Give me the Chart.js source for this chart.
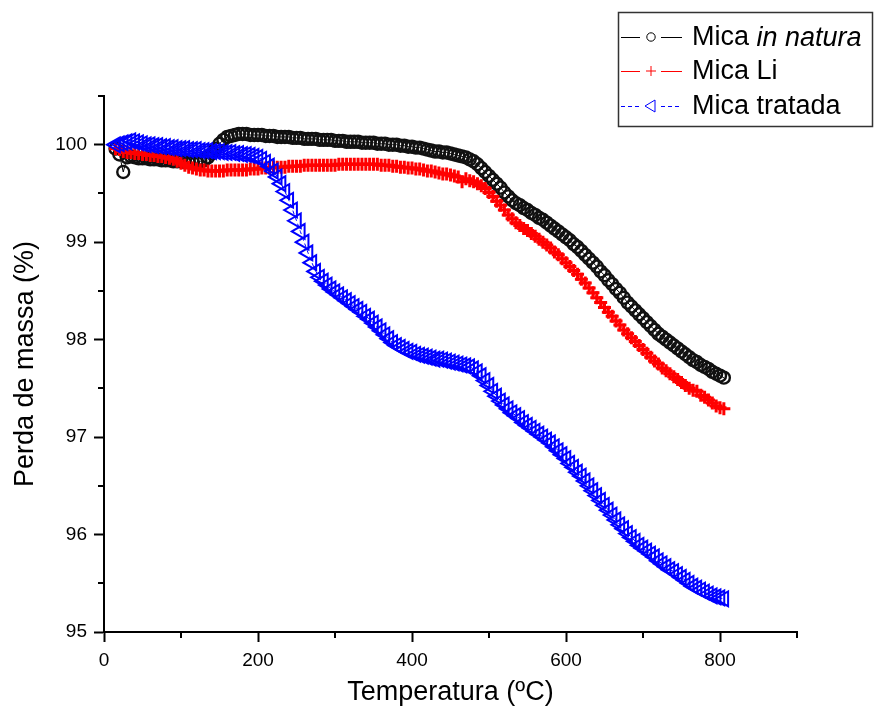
<!DOCTYPE html>
<html>
<head>
<meta charset="utf-8">
<script src="https://cdn.jsdelivr.net/npm/chart.js@4.4.1/dist/chart.umd.min.js"></script>
<style>
  html, body { margin: 0; padding: 0; background: #fff; }
  #c { display: block; }
</style>
</head>
<body>
<canvas id="c" width="874" height="715"></canvas>
<script>
// ---- Data ----
const TEMPERATURES = [
  15,20,25,30,35,40,45,50,55,60,
  65,70,75,80,85,90,95,100,105,110,
  115,120,125,130,135,140,145,150,155,160,
  165,170,175,180,185,190,195,200,205,210,
  215,220,225,230,235,240,245,250,255,260,
  265,270,275,280,285,290,295,300,305,310,
  315,320,325,330,335,340,345,350,355,360,
  365,370,375,380,385,390,395,400,405,410,
  415,420,425,430,435,440,445,450,455,460,
  465,470,475,480,485,490,495,500,505,510,
  515,520,525,530,535,540,545,550,555,560,
  565,570,575,580,585,590,595,600,605,610,
  615,620,625,630,635,640,645,650,655,660,
  665,670,675,680,685,690,695,700,705,710,
  715,720,725,730,735,740,745,750,755,760,
  765,770,775,780,785,790,795,800,805
];

const MICA_IN_NATURA = [
  99.96,99.90,99.72,99.87,99.88,99.87,99.86,99.86,99.86,99.85,
  99.85,99.85,99.84,99.84,99.84,99.83,99.83,99.83,99.82,99.82,
  99.82,99.82,99.83,99.84,99.87,99.91,99.96,100.01,100.05,100.08,
  100.09,100.10,100.11,100.11,100.11,100.10,100.10,100.10,100.10,100.09,
  100.09,100.09,100.08,100.08,100.08,100.08,100.07,100.07,100.07,100.06,
  100.06,100.06,100.06,100.05,100.05,100.05,100.05,100.04,100.04,100.04,
  100.03,100.03,100.03,100.03,100.02,100.02,100.02,100.02,100.01,100.01,
  100.01,100.00,100.00,100.00,99.99,99.99,99.98,99.98,99.97,99.97,
  99.96,99.95,99.94,99.93,99.93,99.92,99.92,99.91,99.90,99.89,
  99.88,99.87,99.85,99.83,99.80,99.76,99.72,99.68,99.64,99.60,
  99.56,99.51,99.47,99.43,99.40,99.38,99.35,99.33,99.30,99.28,
  99.25,99.23,99.20,99.17,99.14,99.11,99.08,99.05,99.02,98.98,
  98.95,98.91,98.87,98.83,98.79,98.75,98.70,98.66,98.61,98.57,
  98.52,98.48,98.43,98.38,98.34,98.30,98.26,98.22,98.18,98.14,
  98.10,98.06,98.03,98.00,97.97,97.94,97.91,97.88,97.85,97.82,
  97.79,97.77,97.74,97.72,97.70,97.67,97.65,97.63,97.61
];

const MICA_LI = [
  99.96,99.95,99.93,99.92,99.92,99.91,99.91,99.90,99.90,99.89,
  99.89,99.88,99.88,99.87,99.86,99.85,99.83,99.81,99.79,99.77,
  99.76,99.75,99.74,99.74,99.73,99.73,99.73,99.73,99.73,99.74,
  99.74,99.74,99.74,99.74,99.74,99.75,99.75,99.75,99.76,99.76,
  99.76,99.77,99.77,99.77,99.77,99.78,99.78,99.78,99.78,99.79,
  99.79,99.79,99.79,99.79,99.79,99.79,99.79,99.79,99.80,99.80,
  99.80,99.80,99.80,99.80,99.80,99.80,99.80,99.80,99.80,99.79,
  99.79,99.79,99.78,99.78,99.77,99.77,99.76,99.76,99.75,99.75,
  99.74,99.73,99.73,99.72,99.71,99.70,99.70,99.69,99.68,99.67,
  99.62,99.65,99.63,99.62,99.60,99.58,99.55,99.51,99.47,99.42,
  99.38,99.33,99.28,99.24,99.20,99.17,99.14,99.12,99.09,99.06,
  99.03,99.00,98.97,98.94,98.90,98.87,98.83,98.79,98.75,98.71,
  98.67,98.62,98.58,98.53,98.48,98.43,98.38,98.33,98.28,98.24,
  98.19,98.15,98.10,98.06,98.02,97.98,97.94,97.90,97.86,97.82,
  97.78,97.75,97.71,97.68,97.65,97.62,97.59,97.56,97.53,97.50,
  97.48,97.47,97.43,97.41,97.38,97.35,97.32,97.30,97.29
];

const MICA_TRATADA = [
  100.00,100.01,100.02,100.03,100.04,100.03,100.02,100.01,100.00,100.00,
  99.99,99.99,99.98,99.98,99.97,99.97,99.96,99.96,99.96,99.95,
  99.95,99.95,99.94,99.94,99.94,99.93,99.93,99.93,99.92,99.92,
  99.92,99.91,99.91,99.90,99.90,99.89,99.88,99.87,99.85,99.82,
  99.78,99.73,99.67,99.60,99.52,99.43,99.33,99.22,99.11,99.00,
  98.89,98.79,98.70,98.64,98.60,98.56,98.52,98.49,98.46,98.43,
  98.40,98.37,98.34,98.31,98.28,98.24,98.21,98.17,98.13,98.09,
  98.05,98.01,97.97,97.94,97.92,97.90,97.88,97.87,97.85,97.84,
  97.83,97.82,97.81,97.80,97.80,97.79,97.78,97.77,97.76,97.75,
  97.74,97.73,97.72,97.70,97.67,97.63,97.58,97.53,97.47,97.42,
  97.37,97.33,97.29,97.25,97.22,97.19,97.15,97.12,97.09,97.06,
  97.03,97.00,96.97,96.94,96.90,96.86,96.82,96.78,96.73,96.69,
  96.64,96.60,96.55,96.50,96.45,96.40,96.35,96.30,96.25,96.20,
  96.15,96.10,96.06,96.01,95.97,95.93,95.89,95.86,95.83,95.80,
  95.77,95.73,95.70,95.67,95.64,95.62,95.59,95.56,95.53,95.50,
  95.47,95.45,95.43,95.41,95.39,95.37,95.36,95.35,95.34
];

const X_TICK_LABELS = [0, 200, 400, 600, 800];
const Y_TICK_LABELS = [95, 96, 97, 98, 99, 100];
const X_MINOR_TICKS = [100, 300, 500, 700, 900];
const Y_MINOR_TICKS = [95.5, 96.5, 97.5, 98.5, 99.5, 100.5];

const SERIES_NAMES = ['Mica in natura', 'Mica Li', 'Mica tratada'];

// ---- Build ----
function pts(vals) { return TEMPERATURES.map((t, i) => ({ x: t, y: vals[i] })); }

const FONT = '"Liberation Sans", Arial, Helvetica, sans-serif';

const isLabel = (arr, v) => arr.some(a => Math.abs(a - v) < 1e-6);

const minorTicks = {
  id: 'minorTicks',
  afterDraw(chart) {
    const ctx = chart.ctx, xs = chart.scales.x, ys = chart.scales.y;
    const a = chart.chartArea;
    ctx.save();
    ctx.strokeStyle = '#000';
    ctx.lineWidth = 2;
    ctx.beginPath();
    X_MINOR_TICKS.forEach(v => {
      const px = Math.round(xs.getPixelForValue(v));
      ctx.moveTo(px, a.bottom); ctx.lineTo(px, a.bottom + 6);
    });
    Y_MINOR_TICKS.forEach(v => {
      const py = Math.round(ys.getPixelForValue(v));
      ctx.moveTo(a.left, py); ctx.lineTo(a.left - 6, py);
    });
    ctx.stroke();
    ctx.restore();
  }
};

const customLegend = {
  id: 'customLegend',
  afterDraw(chart) {
    const ctx = chart.ctx;
    ctx.save();
    ctx.strokeStyle = '#333';
    ctx.lineWidth = 1.5;
    ctx.strokeRect(618.5, 12.5, 254, 114);
    const rows = [
      { y: 37, color: '#000', dash: [], marker: 'circle' },
      { y: 71, color: '#ff0000', dash: [], marker: 'cross' },
      { y: 106, color: '#0000ff', dash: [4, 3], marker: 'tri' }
    ];
    rows.forEach((r, i) => {
      ctx.strokeStyle = r.color;
      ctx.lineWidth = 1;
      ctx.setLineDash(r.dash);
      ctx.beginPath();
      ctx.moveTo(621, r.y + 0.5); ctx.lineTo(640, r.y + 0.5);
      ctx.moveTo(661, r.y + 0.5); ctx.lineTo(682, r.y + 0.5);
      ctx.stroke();
      ctx.setLineDash([]);
      ctx.beginPath();
      if (r.marker === 'circle') {
        ctx.arc(651, r.y, 4.2, 0, Math.PI * 2);
      } else if (r.marker === 'cross') {
        ctx.moveTo(646, r.y); ctx.lineTo(656, r.y);
        ctx.moveTo(651, r.y - 5); ctx.lineTo(651, r.y + 5);
      } else {
        ctx.moveTo(645, r.y); ctx.lineTo(655, r.y - 6); ctx.lineTo(655, r.y + 6); ctx.closePath();
      }
      ctx.stroke();
      ctx.fillStyle = '#000';
      ctx.textBaseline = 'middle';
      ctx.textAlign = 'left';
      if (i === 0) {
        ctx.font = '27px ' + FONT;
        const base = 'Mica ';
        ctx.fillText(base, 692, r.y + 1);
        const w = ctx.measureText(base).width;
        ctx.font = 'italic 27px ' + FONT;
        ctx.fillText('in natura', 692 + w, r.y + 1);
      } else {
        ctx.font = '27px ' + FONT;
        ctx.fillText(SERIES_NAMES[i], 692, r.y + 1);
      }
    });
    ctx.restore();
  }
};

new Chart(document.getElementById('c'), {
  type: 'line',
  data: {
    datasets: [
      {
        label: SERIES_NAMES[2],
        data: pts(MICA_TRATADA),
        borderColor: '#0000ff',
        borderWidth: 1,
        borderDash: [4, 3],
        pointStyle: 'triangle',
        pointRotation: -90,
        pointRadius: 8.5,
        pointBorderWidth: 2,
        pointBorderColor: '#0000ff',
        pointBackgroundColor: 'rgba(255,255,255,0)',
        order: 0
      },
      {
        label: SERIES_NAMES[1],
        data: pts(MICA_LI),
        borderColor: '#ff0000',
        borderWidth: 1,
        pointStyle: 'cross',
        pointRadius: 6.5,
        pointBorderWidth: 3,
        pointBorderColor: '#ff0000',
        order: 1
      },
      {
        label: SERIES_NAMES[0],
        data: pts(MICA_IN_NATURA),
        borderColor: '#000',
        borderWidth: 1,
        pointStyle: 'circle',
        pointRadius: 6,
        pointBorderWidth: 2.4,
        pointBorderColor: '#111',
        pointBackgroundColor: 'rgba(255,255,255,0)',
        order: 2
      }
    ]
  },
  options: {
    responsive: false,
    animation: false,
    devicePixelRatio: 1,
    layout: { padding: { left: 0, top: 96, right: 77, bottom: 0 } },
    plugins: { legend: { display: false }, tooltip: { enabled: false } },
    elements: { line: { tension: 0 } },
    scales: {
      x: {
        type: 'linear',
        min: 0, max: 900,
        afterFit(s) { s.height = 83; },
        border: { display: true, color: '#000', width: 2 },
        grid: {
          drawOnChartArea: false, drawTicks: true, tickLength: 10, tickWidth: 2,
          tickColor: c => (c.tick && isLabel(X_TICK_LABELS, c.tick.value)) ? '#000' : 'rgba(0,0,0,0)'
        },
        ticks: {
          stepSize: 100, autoSkip: false, maxRotation: 0, padding: 7,
          color: '#000', font: { family: FONT, size: 19 },
          callback: v => isLabel(X_TICK_LABELS, v) ? String(v) : ''
        },
        title: {
          display: true, text: 'Temperatura (ºC)', color: '#000',
          font: { family: FONT, size: 27 }, padding: { top: 0, bottom: 6 }
        }
      },
      y: {
        type: 'linear',
        min: 95, max: 100.5,
        afterFit(s) { s.width = 104; },
        border: { display: true, color: '#000', width: 2 },
        grid: {
          drawOnChartArea: false, drawTicks: true, tickLength: 10, tickWidth: 2,
          tickColor: c => (c.tick && isLabel(Y_TICK_LABELS, c.tick.value)) ? '#000' : 'rgba(0,0,0,0)'
        },
        ticks: {
          stepSize: 0.5, autoSkip: false, padding: 7,
          color: '#000', font: { family: FONT, size: 19 },
          callback: v => isLabel(Y_TICK_LABELS, v) ? String(Math.round(v)) : ''
        },
        title: {
          display: true, text: 'Perda de massa (%)', color: '#000',
          font: { family: FONT, size: 27 }, padding: { top: 9, bottom: 0 }
        }
      }
    }
  },
  plugins: [minorTicks, customLegend]
});
</script>
</body>
</html>
